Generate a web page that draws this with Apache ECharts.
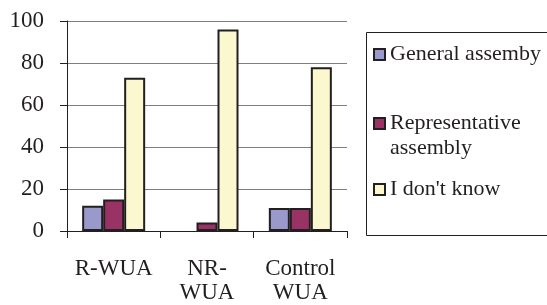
<!DOCTYPE html>
<html>
<head>
<meta charset="utf-8">
<script src="https://cdn.jsdelivr.net/npm/echarts@6/dist/echarts.min.js"></script>
<style>
  html, body { margin: 0; padding: 0; background: #fff; }
  #main { width: 547px; height: 305px; }
</style>
</head>
<body>
<div id="main"></div>
<script>
var categories = ['R-WUA', 'NR-\nWUA', 'Control\nWUA'];
var generalAssembly = [12, 0, 11];
var representativeAssembly = [15, 4, 11];
var dontKnow = [73, 96, 78];
var yTicks = [0, 20, 40, 60, 80, 100];

var fontName = 'Liberation Serif';
var textColor = '#231f20';

var myChart = echarts.init(document.getElementById('main'));

function bar(name, data, color) {
    return {
        name: name,
        type: 'bar',
        // 0 的柱子不画边框
        data: data.map(function (v) {
            return v === 0 ? { value: 0, itemStyle: { borderWidth: 0 } } : v;
        }),
        barWidth: 21,
        barGap: '0%',
        itemStyle: { color: color, borderColor: '#231f20', borderWidth: 2 }
    };
}

function legendItem(name, top) {
    return {
        data: [name],
        left: 373,
        top: top,
        orient: 'vertical',
        icon: 'rect',
        itemWidth: 11,
        itemHeight: 11,
        padding: 0,
        selectedMode: false,
        itemStyle: { borderColor: '#231f20', borderWidth: 2 },
        textStyle: {
            fontFamily: fontName, fontSize: 22, color: textColor,
            lineHeight: 25
        },
        formatter: function (n) {
            // 两行图例: 空行放前面, 让图标对齐第一行
            if (n === 'Representative assembly') return ' \nRepresentative\nassembly';
            return n;
        }
    };
}

var option = {
    animation: false,
    textStyle: { fontFamily: fontName },
    grid: { left: 67, top: 21, right: 200, bottom: 74, outerBoundsMode: 'none', containLabel: false },
    xAxis: {
        type: 'category',
        data: categories,
        axisLine: { lineStyle: { color: '#231f20', width: 1 } },
        axisTick: { show: true, length: 7, lineStyle: { color: '#231f20' } },
        axisLabel: {
            interval: 0,
            fontFamily: fontName, fontSize: 23, color: textColor,
            lineHeight: 24, margin: 26
        }
    },
    yAxis: {
        type: 'value',
        min: yTicks[0],
        max: yTicks[yTicks.length - 1],
        interval: 20,
        axisLine: { show: true, lineStyle: { color: '#231f20', width: 1 } },
        axisTick: { show: true, length: 7, lineStyle: { color: '#231f20' } },
        splitLine: { lineStyle: { color: '#7f7f7f', width: 1 } },
        axisLabel: {
            fontFamily: fontName, fontSize: 23, color: textColor, margin: 23
        }
    },
    graphic: [{
        type: 'rect',
        shape: { x: 366.5, y: 32.5, width: 190, height: 203 },
        style: { fill: 'none', stroke: '#231f20', lineWidth: 1 },
        silent: true
    }],
    legend: [
        legendItem('General assemby', 42),
        legendItem('Representative assembly', 86),
        legendItem('I don\'t know', 177)
    ],
    series: [
        bar('General assemby', generalAssembly, '#9999cc'),
        bar('Representative assembly', representativeAssembly, '#993366'),
        bar('I don\'t know', dontKnow, '#fbf8cf')
    ]
};
myChart.setOption(option);
</script>
</body>
</html>
